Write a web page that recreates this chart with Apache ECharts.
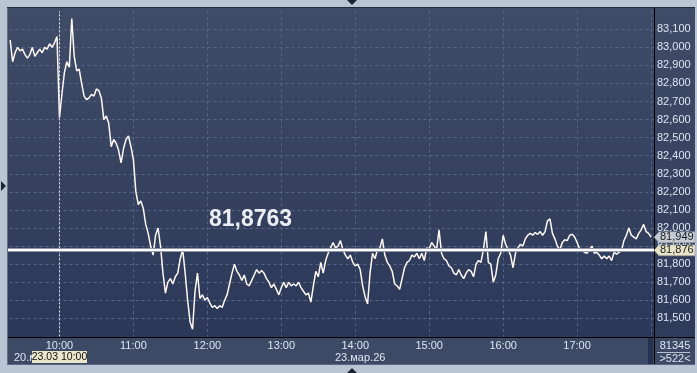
<!DOCTYPE html>
<html><head><meta charset="utf-8">
<script src="https://cdn.jsdelivr.net/npm/echarts@6/dist/echarts.min.js"></script>
<style>html,body{margin:0;padding:0;background:#b9c5d5;}#c{width:697px;height:373px;}</style>
</head><body><div id="c"></div>
<script>
// ---- data ----
const startTime = '09:20';
const stepMinutes = 2;
const prices = [
  83.04, 82.92, 82.97, 83.00, 82.98, 82.99, 82.96, 82.94, 82.96, 83.00, 82.95, 82.97, 82.99, 82.97, 83.00, 82.99, 83.02, 83.00, 83.025, 83.06, 82.61,
  82.74, 82.86, 82.92, 82.89, 83.16, 82.95, 82.87, 82.88, 82.80, 82.73, 82.71, 82.72, 82.74, 82.73, 82.77, 82.76, 82.72,
  82.60, 82.62, 82.58, 82.45, 82.49, 82.47, 82.43, 82.36, 82.44, 82.49, 82.51, 82.45, 82.38, 82.20, 82.13, 82.15, 82.11, 82.02, 81.97, 81.90, 81.85, 81.96, 82.00,
  81.90, 81.75, 81.64, 81.70, 81.72, 81.69, 81.73, 81.75, 81.83, 81.88, 81.75, 81.60, 81.48, 81.44, 81.65, 81.75, 81.61, 81.63, 81.60, 81.615, 81.585, 81.56, 81.57, 81.555, 81.57, 81.56, 81.60, 81.63,
  81.69, 81.75, 81.80, 81.76, 81.74, 81.71, 81.74, 81.69, 81.68, 81.71, 81.74, 81.77, 81.75, 81.765, 81.75, 81.72, 81.70, 81.67, 81.69, 81.66, 81.63, 81.67, 81.70, 81.67, 81.70, 81.68, 81.69, 81.68, 81.70, 81.67, 81.65, 81.63, 81.64, 81.59,
  81.68, 81.76, 81.73, 81.81, 81.75, 81.82, 81.86, 81.89, 81.92, 81.89, 81.90, 81.93, 81.88, 81.85, 81.83, 81.85, 81.81, 81.79, 81.80, 81.77, 81.68, 81.62, 81.58,
  81.75, 81.86, 81.83, 81.88, 81.89, 81.94, 81.85, 81.81, 81.79, 81.76, 81.69, 81.68, 81.66, 81.72, 81.78, 81.81, 81.82, 81.85, 81.84, 81.86, 81.83, 81.86, 81.82, 81.89, 81.885, 81.92, 81.90, 81.88, 81.99, 81.86, 81.83, 81.82,
  81.79, 81.78, 81.75, 81.74, 81.77, 81.74, 81.72, 81.75, 81.77, 81.76, 81.73, 81.80, 81.82, 81.81, 81.88, 81.98, 81.81, 81.80, 81.70, 81.74, 81.83, 81.86, 81.96, 81.91, 81.88, 81.85, 81.78, 81.86, 81.89, 81.91, 81.90, 81.94, 81.96, 81.97, 81.96, 81.975, 81.965, 81.98, 81.96, 81.98,
  82.04, 82.05, 81.97, 81.94, 81.90, 81.88, 81.92, 81.935, 81.93, 81.96, 81.965, 81.95, 81.92, 81.885, 81.88, 81.865, 81.86, 81.88, 81.90, 81.86, 81.865, 81.85, 81.83, 81.845, 81.83, 81.845, 81.82, 81.865, 81.855, 81.865, 81.875, 81.93, 81.96, 82.00, 81.96, 81.95, 81.94, 81.97, 81.99, 82.02, 81.98, 81.97, 81.949
];
const lastPrice = 81.949;
const linePrice = 81.8763;
const lineLabel = '81,8763';
const lastLabel = '81,949';
const lineBoxLabel = '81,876';
const dayBreak = '10:00';
const hourLabels = ['10:00','11:00','12:00','13:00','14:00','15:00','16:00','17:00'];
const prevDateLabel = '20.мар.26';
const dateLabel = '23.мар.26';
const cursorLabel = '23.03 10:00';
const infoTop = '81345';
const infoBottom = '>522<';

// ---- helpers ----
const toMin = s => { const [h, m] = s.split(':').map(Number); return h * 60 + m; };
const fmtTime = v => { const h = Math.floor(v / 60), m = Math.round(v - h * 60); return String(h).padStart(2, '0') + ':' + String(m).padStart(2, '0'); };
const t0 = toMin(startTime);
const seriesData = prices.map((p, i) => [t0 + i * stepMinutes, p]);

const FONT = "'Liberation Sans', Arial, sans-serif";
const TXT = '#dde5f2';
const chart = echarts.init(document.getElementById('c'), null, { renderer: 'canvas' });

const option = {
  animation: false,
  backgroundColor: '#b9c5d5',
  grid: { left: -14.5, width: 668.5, top: 11.2, height: 325.2, containLabel: false, outerBoundsMode: 'none' },
  xAxis: {
    type: 'value', min: 540, max: 1082.4, interval: 60,
    axisLine: { show: false }, axisTick: { show: false },
    axisLabel: { color: TXT, fontSize: 11, fontFamily: FONT, margin: 4,
      showMinLabel: false, showMaxLabel: false,
      formatter: v => { const s = fmtTime(v); return hourLabels.includes(s) ? s : ''; } },
    splitLine: { show: true, showMinLine: false, showMaxLine: false,
      lineStyle: { color: '#55658a', type: [3, 3], width: 1 } }
  },
  yAxis: {
    type: 'value', position: 'right', min: 81.4, max: 83.2, interval: 0.1,
    axisLine: { show: false }, axisTick: { show: false },
    axisLabel: { color: TXT, fontSize: 11, fontFamily: FONT, margin: 3, align: 'left',
      showMinLabel: false, showMaxLabel: false,
      formatter: v => v.toFixed(3).replace('.', ',') },
    splitLine: { show: true, showMinLine: false, showMaxLine: false,
      lineStyle: { color: '#55658a', type: [3, 3], width: 1 } }
  },
  series: [{
    type: 'line', data: seriesData, symbol: 'none', clip: true,
    lineStyle: { color: '#fff8f2', width: 1.5 },
    markLine: {
      silent: true, symbol: 'none', label: { show: false },
      data: [
        { xAxis: toMin(dayBreak), lineStyle: { color: '#e4e6ee', type: [2, 2], width: 1 } },
        { yAxis: linePrice, lineStyle: { color: '#8f97a8', type: 'solid', width: 4 } },
        { yAxis: linePrice, lineStyle: { color: '#ffffff', type: 'solid', width: 2 } }
      ]
    }
  }]
};
chart.setOption(option);

const px = (x, y) => chart.convertToPixel({ gridIndex: 0 }, [x, y]);
const yLast = px(t0, lastPrice)[1];
const yLine = px(t0, linePrice)[1];
const bigPos = px(755, linePrice);

function priceBox(id, y, label, fill) {
  return [
    { type: 'polygon', id: id + 'b', z: 120, shape: { points: [[654, y], [659, y - 5.5], [695, y - 5.5], [695, y + 5.5], [659, y + 5.5]] },
      style: { fill: fill, stroke: '#8a8f98', lineWidth: 0.5 } },
    { type: 'text', id: id + 't', z: 121, style: { text: label, x: 660, y: y, fill: '#1a1d24', font: '11px ' + FONT, textVerticalAlign: 'middle', textAlign: 'left' } }
  ];
}

const grad = new echarts.graphic.LinearGradient(0, 0, 0, 1, [{ offset: 0, color: '#3f4c67' }, { offset: 1, color: '#2c3858' }]);
const grad2 = new echarts.graphic.LinearGradient(0, 0, 0, 1, [{ offset: 0, color: '#3f4c67' }, { offset: 1, color: '#2e3a5a' }]);
const line = (id, x1, y1, x2, y2, c, z) => ({ type: 'line', id, z: z || 110, shape: { x1, y1, x2, y2 }, style: { stroke: c, lineWidth: 1 } });
const text = (id, s, x, y, c, align) => ({ type: 'text', id, z: 115, style: { text: s, x, y, fill: c, font: '11px ' + FONT, textAlign: align || 'left', textVerticalAlign: 'middle' } });

const graphics = [
  { type: 'rect', id: 'plotbg', z: -5, shape: { x: 8, y: 8, width: 647, height: 330 }, style: { fill: grad } },
  { type: 'rect', id: 'rightbg', z: -5, shape: { x: 655, y: 8, width: 40, height: 330 }, style: { fill: grad2 } },
  { type: 'rect', id: 'botbg', z: -5, shape: { x: 8, y: 338, width: 687, height: 27 }, style: { fill: '#3c4a66' } },
  { type: 'rect', id: 'strip', z: 105, shape: { x: 648, y: 338, width: 5, height: 27 }, style: { fill: '#273250' } },
  { type: 'rect', id: 'leftcover', z: 100, shape: { x: 0, y: 0, width: 7, height: 373 }, style: { fill: '#b9c5d5' } },
  line('lframe', 7.5, 7, 7.5, 365, '#67717f'),
  line('tframe', 7, 7.5, 695, 7.5, '#232b3c'),
  line('raxis', 654.5, 8, 654.5, 365, '#000000'),
  line('baxis', 8, 337.5, 695, 337.5, '#000000'),
  line('bbottom', 8, 364.5, 695, 364.5, '#5a6782'),
  line('infosep', 657, 352.5, 690, 352.5, '#b7c0d0'),
  text('prevdate', prevDateLabel, 14, 357.5, TXT),
  { type: 'rect', id: 'curbox', z: 116, shape: { x: 32, y: 351, width: 55, height: 12 }, style: { fill: '#ebe7ca' } },
  { type: 'text', id: 'curtxt', z: 117, style: { text: cursorLabel, x: 59.5, y: 357.5, fill: '#111111', font: '10.5px ' + FONT, textAlign: 'center', textVerticalAlign: 'middle' } },
  text('date', dateLabel, 335, 357.5, TXT),
  text('info1', infoTop, 675, 345.5, TXT, 'center'),
  text('info2', infoBottom, 675, 358.5, TXT, 'center'),
  { type: 'polygon', id: 'triT', z: 120, shape: { points: [[347, 0], [357, 0], [352, 5]] }, style: { fill: '#1b2232' } },
  { type: 'polygon', id: 'triB', z: 120, shape: { points: [[347, 373], [357, 373], [352, 368]] }, style: { fill: '#1b2232' } },
  { type: 'polygon', id: 'triL', z: 120, shape: { points: [[1, 181], [1, 191], [6, 186]] }, style: { fill: '#1b2232' } },
  { type: 'text', id: 'big', z: 118, style: { text: lineLabel, x: bigPos[0], y: bigPos[1] - 31, fill: '#eceef3', font: 'bold 23px ' + FONT, textAlign: 'center', textVerticalAlign: 'middle' } }
].concat(priceBox('last', yLast, lastLabel, '#c6cad2'), priceBox('lvl', yLine, lineBoxLabel, '#e8e4c6'));

chart.setOption({ graphic: graphics });
</script></body></html>
